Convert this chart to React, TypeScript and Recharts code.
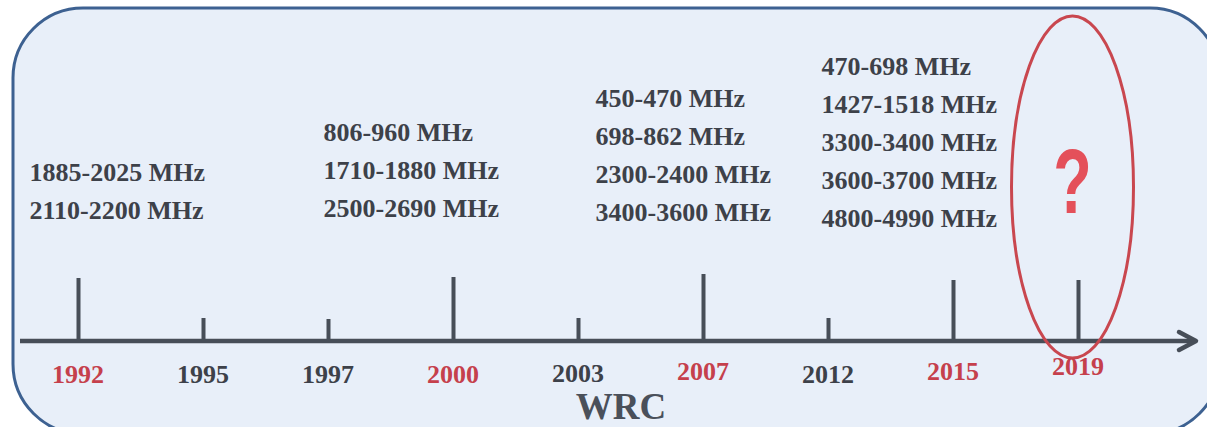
import React from 'react';
import { BarChart, Bar, XAxis, YAxis } from 'recharts';

// ---- data ----
const years = ['1992', '1995', '1997', '2000', '2003', '2007', '2012', '2015', '2019'];
const tickLengths = [63, 23, 22, 64, 23, 67, 23, 61, 61];
const highlightedYears = ['1992', '2000', '2007', '2015', '2019'];

const bands1992 = ['1885-2025 MHz', '2110-2200 MHz'];
const bands2000 = ['806-960 MHz', '1710-1880 MHz', '2500-2690 MHz'];
const bands2007 = ['450-470 MHz', '698-862 MHz', '2300-2400 MHz', '3400-3600 MHz'];
const bands2015 = ['470-698 MHz', '1427-1518 MHz', '3300-3400 MHz', '3600-3700 MHz', '4800-4990 MHz'];
const unknownLabel = '?';
const unknownYear = '2019';
const axisTitle = 'WRC';

const bandsByYear: Record<string, string[]> = {
  '1992': bands1992,
  '2000': bands2000,
  '2007': bands2007,
  '2015': bands2015,
};

const data = years.map((year, i) => ({
  year,
  len: tickLengths[i],
  bands: bandsByYear[year] || [],
}));

// ---- styles ----
const W = 1207;
const H = 427;
const DARK = '#3d4149';
const RED = '#c5404c';
const FONT = '"Liberation Serif", "Times New Roman", serif';
const SANS = '"Liberation Sans", Arial, sans-serif';
const BASE_Y = 341;
const LINE_GAP = 38;

const blockStyle: Record<string, { dx: number; dy: number }> = {
  '1992': { dx: -49, dy: -122 },
  '2000': { dx: -130, dy: -124 },
  '2007': { dx: -108, dy: -120 },
  '2015': { dx: -132, dy: -114 },
};
const yearLabelDy: Record<string, number> = { '2019': -8, '2007': -3, '2015': -3, '2003': -1 };

const TickShape = (props: any) => {
  const { x, y, width, height, payload } = props;
  const cx = x + width / 2;
  const bottom = y + height;
  const style = blockStyle[payload.year];
  const lines: string[] = payload.bands || [];
  return (
    <g>
      <rect x={x} y={y} width={width} height={height} fill="#474e58" />
      {style &&
        lines.map((t, i) => (
          <text
            key={i}
            x={cx + style.dx}
            y={bottom + style.dy - (lines.length - 1 - i) * LINE_GAP}
            fontFamily={FONT}
            fontWeight="bold"
            fontSize={26}
            fill={DARK}
          >
            {t}
          </text>
        ))}
      {payload.year === unknownYear && (
        <g>
          <ellipse cx={cx - 6} cy={bottom - 154} rx={61} ry={171} fill="none" stroke="#c9474f" strokeWidth={3} />
          <text
            transform={`translate(${cx - 6}, ${bottom - 128}) scale(0.7, 1)`}
            x={0}
            y={0}
            textAnchor="middle"
            fontFamily={SANS}
            fontWeight="bold"
            fontSize={90}
            fill="#e4505a"
          >
            {unknownLabel}
          </text>
        </g>
      )}
    </g>
  );
};

const YearTick = (props: any) => {
  const { x, y, payload } = props;
  const v = payload.value as string;
  const red = highlightedYears.includes(v);
  return (
    <text
      x={x}
      y={y + 42 + (yearLabelDy[v] || 0)}
      textAnchor="middle"
      fontFamily={FONT}
      fontWeight="bold"
      fontSize={26}
      fill={red ? RED : DARK}
    >
      {v}
    </text>
  );
};

export default function App() {
  return (
    <div style={{ position: 'absolute', left: 0, top: 0, width: W, height: H, overflow: 'hidden', background: '#fff' }}>
      <svg width={W} height={H} style={{ position: 'absolute', left: 0, top: 0 }}>
        <rect x={13} y={8} width={1207} height={426} rx={70} ry={70} fill="#e8eff9" stroke="#3d6191" strokeWidth={3} />
        <line x1={20} y1={BASE_Y} x2={1195} y2={BASE_Y} stroke="#474e58" strokeWidth={4.5} />
        <polyline
          points={`1179,332 1196,${BASE_Y} 1179,350`}
          fill="none"
          stroke="#474e58"
          strokeWidth={4.5}
          strokeLinecap="round"
          strokeLinejoin="round"
        />
        <text x={621} y={419} textAnchor="middle" fontFamily={FONT} fontWeight="bold" fontSize={37} fill="#4a505a">
          {axisTitle}
        </text>
      </svg>
      <div style={{ position: 'absolute', left: 0, top: 0 }}>
        <BarChart
          width={W}
          height={H}
          data={data}
          margin={{ top: 21, right: 66.5, left: 15.5, bottom: 46 }}
          barCategoryGap={0}
        >
          <YAxis hide domain={[0, 320]} />
          <XAxis
            dataKey="year"
            height={40}
            axisLine={false}
            tickLine={false}
            tickSize={0}
            tickMargin={0}
            interval={0}
            tick={<YearTick />}
          />
          <Bar dataKey="len" barSize={4} isAnimationActive={false} shape={<TickShape />} />
        </BarChart>
      </div>
    </div>
  );
}
